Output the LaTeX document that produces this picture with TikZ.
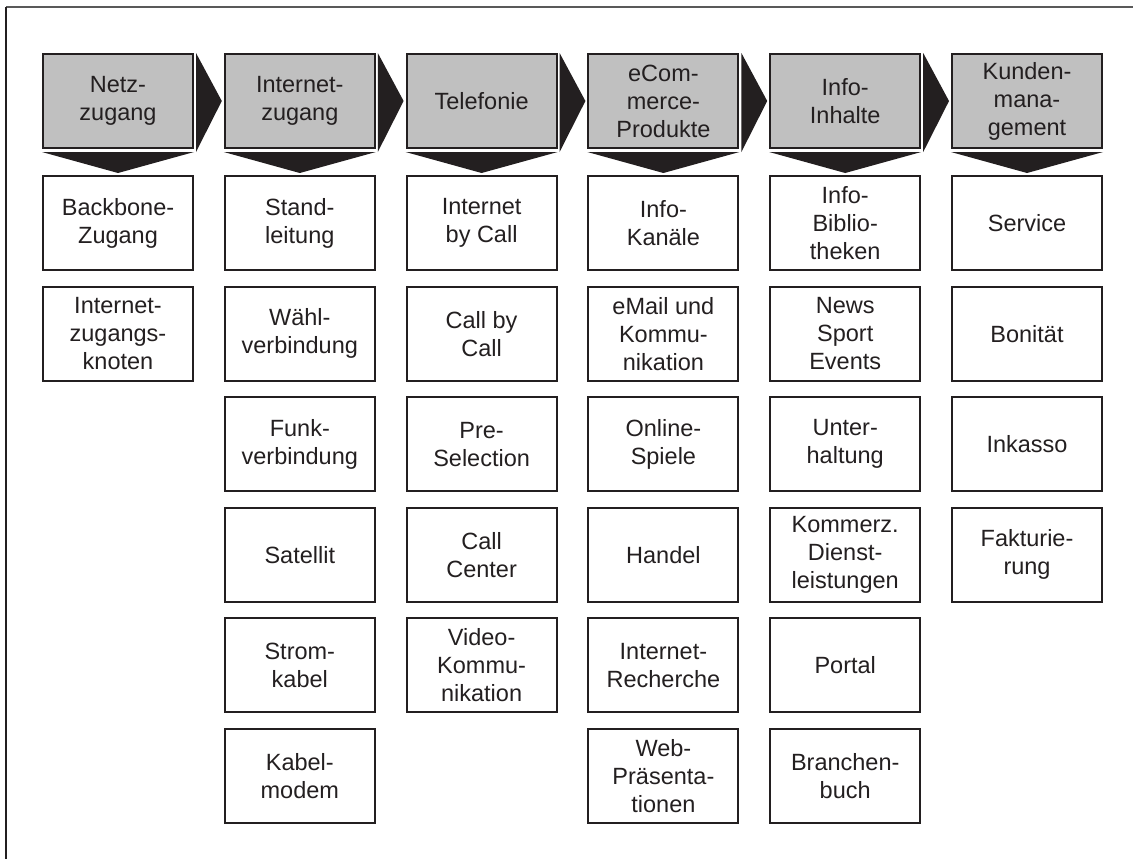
\documentclass[tikz,border=0pt]{standalone}
\usepackage{fontspec}
\setmainfont{Liberation Sans}
\usetikzlibrary{calc}
\definecolor{ink}{HTML}{231F20}
\definecolor{headfill}{HTML}{C0C0C0}
\begin{document}
\begin{tikzpicture}[x=0.5pt,y=-0.5pt,
  box/.style={draw=ink, line width=1pt, minimum width=75pt, minimum height=47pt,
    inner sep=0pt, align=center, text=ink, font=\fontsize{11.75}{14}\selectfont},
  head/.style={box, fill=headfill},
  chevron/.style={fill=ink, draw=none},
  frameline/.style={line width=0.7pt}]
\useasboundingbox (0,0) rectangle (1133,859);
% outer frame (top and left edges)
\draw[frameline, draw=black!65] (1133,7) -- (6,7);
\draw[frameline, draw=ink] (6,7) -- (6,859);

% stage headers
\node[head] (h1) at (118,101)    {Netz-\\zugang};
\node[head] (h2) at (299.8,101)  {Internet-\\zugang};
\node[head] (h3) at (481.6,101)  {Telefonie};
\node[head] (h4) at (663.4,101)  {eCom-\\merce-\\Produkte};
\node[head] (h5) at (845.2,101)  {Info-\\Inhalte};
\node[head] (h6) at (1027,101)   {Kunden-\\mana-\\gement};

% Netzzugang
\node[box] (b1-1) at (118,223)   {Backbone-\\Zugang};
\node[box] (b1-2) at (118,333.6) {Internet-\\zugangs-\\knoten};

% Internetzugang
\node[box] (b2-1) at (299.8,223)   {Stand-\\leitung};
\node[box] (b2-2) at (299.8,333.6) {Wähl-\\verbindung};
\node[box] (b2-3) at (299.8,444.2) {Funk-\\verbindung};
\node[box] (b2-4) at (299.8,554.8) {Satellit};
\node[box] (b2-5) at (299.8,665.4) {Strom-\\kabel};
\node[box] (b2-6) at (299.8,776)   {Kabel-\\modem};

% Telefonie
\node[box] (b3-1) at (481.6,223)   {Internet\\by Call};
\node[box] (b3-2) at (481.6,333.6) {Call by\\Call};
\node[box] (b3-3) at (481.6,444.2) {Pre-\\Selection};
\node[box] (b3-4) at (481.6,554.8) {Call\\Center};
\node[box] (b3-5) at (481.6,665.4) {Video-\\Kommu-\\nikation};

% eCommerce-Produkte
\node[box] (b4-1) at (663.4,223)   {Info-\\Kanäle};
\node[box] (b4-2) at (663.4,333.6) {eMail und\\Kommu-\\nikation};
\node[box] (b4-3) at (663.4,444.2) {Online-\\Spiele};
\node[box] (b4-4) at (663.4,554.8) {Handel};
\node[box] (b4-5) at (663.4,665.4) {Internet-\\Recherche};
\node[box] (b4-6) at (663.4,776)   {Web-\\Präsenta-\\tionen};

% Info-Inhalte
\node[box] (b5-1) at (845.2,223)   {Info-\\Biblio-\\theken};
\node[box] (b5-2) at (845.2,333.6) {News\\Sport\\Events};
\node[box] (b5-3) at (845.2,444.2) {Unter-\\haltung};
\node[box] (b5-4) at (845.2,554.8) {Kommerz.\\Dienst-\\leistungen};
\node[box] (b5-5) at (845.2,665.4) {Portal};
\node[box] (b5-6) at (845.2,776)   {Branchen-\\buch};

% Kundenmanagement
\node[box] (b6-1) at (1027,223)   {Service};
\node[box] (b6-2) at (1027,333.6) {Bonität};
\node[box] (b6-3) at (1027,444.2) {Inkasso};
\node[box] (b6-4) at (1027,554.8) {Fakturie-\\rung};

% chevrons pointing to the next stage
\foreach \a/\b in {h1/h2, h2/h3, h3/h4, h4/h5, h5/h6}
  \fill[chevron] ($(\a.north east)+(2,0)$) -- ($(\b.west)+(-2,0)$)
                 -- ($(\a.south east)+(2,3)$) -- cycle;

% chevrons pointing down to each stage's items
\foreach \i in {1,...,6}
  \fill[chevron] ($(h\i.south west)+(0,3)$) -- ($(h\i.south east)+(0,3)$)
                 -- ($(b\i-1.north)+(0,-2)$) -- cycle;
\end{tikzpicture}
\end{document}
